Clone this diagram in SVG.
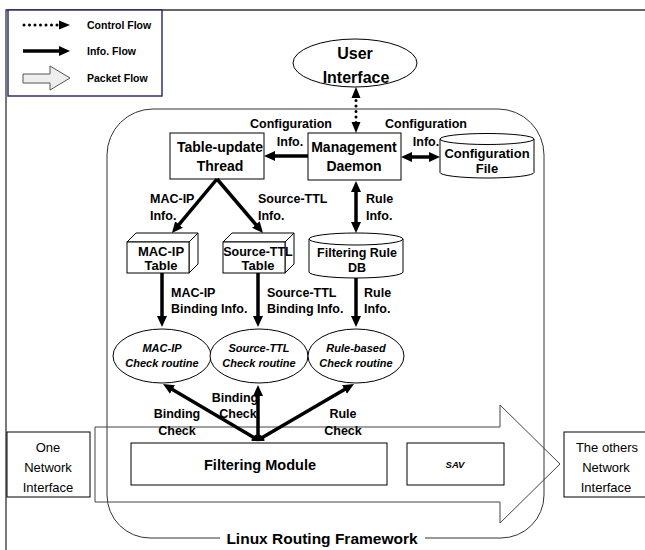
<svg xmlns="http://www.w3.org/2000/svg" width="645" height="550" viewBox="0 0 645 550">
  <style>
    text { font-family: "Liberation Sans", Arial, sans-serif; fill: #000; }
    .b { font-weight: bold; }
    .bi { font-weight: bold; font-style: italic; }
    .c { text-anchor: middle; }
    .box { fill: #fff; stroke: #000; stroke-width: 1; }
    .thin { fill: none; stroke: #333; stroke-width: 1; }
    .info { fill: none; stroke: #000; stroke-width: 3.5; marker-end: url(#ah); }
    .info2 { fill: none; stroke: #000; stroke-width: 3.5; marker-start: url(#ah); marker-end: url(#ah); }
    .ctrl { fill: none; stroke: #000; stroke-width: 3; stroke-dasharray: 0 5.5; stroke-linecap: round; }
    .lbl { font-size: 12.5px; font-weight: bold; }
    .rt { font-size: 11px; font-weight: bold; font-style: italic; text-anchor: middle; }
    .ni { font-size: 13px; text-anchor: middle; }
  </style>
  <defs>
    <marker id="ah" viewBox="0 0 11 10" refX="5" refY="5" markerWidth="11" markerHeight="10" markerUnits="userSpaceOnUse" orient="auto-start-reverse">
      <path d="M0,0 L11,5 L0,10 Z" fill="#000"/>
    </marker>
  </defs>

  <!-- page frame -->
  <path d="M6,550 V10 H645" fill="none" stroke="#333" stroke-width="1.3"/>

  <!-- legend -->
  <g id="legend">
    <rect x="8" y="10" width="154" height="86" fill="#fff" stroke="#23236e" stroke-width="1.4"/>
    <line class="ctrl" x1="24" y1="25" x2="60" y2="25"/>
    <path d="M59,20.5 L70,25 L59,29.5 Z" fill="#000"/>
    <text class="b" x="87" y="29" font-size="10.5">Control Flow</text>
    <line x1="23" y1="51" x2="64" y2="51" stroke="#000" stroke-width="3.5" marker-end="url(#ah)"/>
    <text class="b" x="87" y="55" font-size="10.5">Info. Flow</text>
    <path d="M23,74 H50 V66 L70,78 L50,90 V83 H23 Z" fill="#eee" stroke="#555" stroke-width="1"/>
    <text class="b" x="87" y="82" font-size="10.5">Packet Flow</text>
  </g>

  <!-- Linux routing framework outline -->
  <g id="framework">
    <path class="thin" d="M220,538 H150 A43,43 0 0 1 107,495 V155 A46,46 0 0 1 153,109 H498 A46,46 0 0 1 544,155 V495 A43,43 0 0 1 501,538 H425"/>
    <text class="b c" x="322" y="544" font-size="15.5">Linux Routing Framework</text>
  </g>

  <!-- packet flow arrow -->
  <g id="packet-flow">
    <path d="M95,427 H500 V405 L560,464 L500,523 V502 H95 Z" fill="none" stroke="#444" stroke-width="1"/>
  </g>

  <g id="user-interface">
    <ellipse class="box" cx="355" cy="63" rx="62" ry="24"/>
    <text class="b c" x="355" y="59" font-size="16">User</text>
    <text class="b c" x="356" y="83" font-size="16">Interface</text>
  </g>

  <g id="management-daemon">
    <rect class="box" x="308" y="133" width="93" height="47"/>
    <text class="b c" x="354" y="152" font-size="14">Management</text>
    <text class="b c" x="354" y="171" font-size="14">Daemon</text>
  </g>

  <g id="table-update-thread">
    <rect class="box" x="170" y="133" width="94" height="46"/>
    <text class="b c" x="220" y="152" font-size="14">Table-update</text>
    <text class="b c" x="220" y="171" font-size="14">Thread</text>
  </g>

  <g id="configuration-file">
    <path class="box" d="M440,139 A47,5.5 0 0 1 534,139 V172.5 A47,5.5 0 0 1 440,172.5 Z"/>
    <path fill="none" stroke="#000" stroke-width="1" d="M440,139 A47,5.5 0 0 0 534,139"/>
    <text class="b c" x="487" y="158" font-size="13">Configuration</text>
    <text class="b c" x="487" y="173" font-size="13">File</text>
  </g>

  <g id="mac-ip-table">
    <path class="box" d="M127,242 L136,233 H198 L189,242 Z"/>
    <path class="box" d="M189,242 L198,233 V264 L189,273 Z"/>
    <rect class="box" x="127" y="242" width="62" height="31"/>
    <text class="b c" x="161" y="256" font-size="13">MAC-IP</text>
    <text class="b c" x="161" y="270" font-size="13">Table</text>
  </g>

  <g id="source-ttl-table">
    <path class="box" d="M223,242 L232,233 H294 L285,242 Z"/>
    <path class="box" d="M285,242 L294,233 V264 L285,273 Z"/>
    <rect class="box" x="223" y="242" width="62" height="31"/>
    <text class="b c" x="258" y="256" font-size="12.5">Source-TTL</text>
    <text class="b c" x="258" y="270" font-size="13">Table</text>
  </g>

  <g id="filtering-rule-db">
    <path class="box" d="M309,239 A47,6 0 0 1 403,239 V272 A47,6 0 0 1 309,272 Z"/>
    <path fill="none" stroke="#000" stroke-width="1" d="M309,239 A47,6 0 0 0 403,239"/>
    <text class="b c" x="357" y="257" font-size="12.5">Filtering Rule</text>
    <text class="b c" x="357" y="272" font-size="12.5">DB</text>
  </g>

  <g id="mac-ip-check">
    <ellipse class="box" cx="162" cy="356" rx="49" ry="27"/>
    <text class="rt" x="162" y="352">MAC-IP</text>
    <text class="rt" x="162" y="367">Check routine</text>
  </g>

  <g id="source-ttl-check">
    <ellipse class="box" cx="259" cy="356" rx="49" ry="27"/>
    <text class="rt" x="259" y="352">Source-TTL</text>
    <text class="rt" x="259" y="367">Check routine</text>
  </g>

  <g id="rule-based-check">
    <ellipse class="box" cx="356" cy="356" rx="48" ry="27"/>
    <text class="rt" x="356" y="352">Rule-based</text>
    <text class="rt" x="356" y="367">Check routine</text>
  </g>

  <g id="filtering-module">
    <rect class="box" x="131" y="443" width="256" height="42"/>
    <text class="b c" x="260" y="470" font-size="14.5">Filtering Module</text>
  </g>

  <g id="sav">
    <rect class="box" x="407" y="443" width="97" height="42"/>
    <text class="bi c" x="455" y="468" font-size="9.5">SAV</text>
  </g>

  <g id="one-network-interface">
    <rect class="box" x="7" y="432" width="83" height="65"/>
    <text class="ni" x="48" y="452">One</text>
    <text class="ni" x="48" y="472">Network</text>
    <text class="ni" x="48" y="492">Interface</text>
  </g>

  <g id="others-network-interface">
    <rect class="box" x="564" y="432" width="90" height="65"/>
    <text class="ni" x="607" y="452">The others</text>
    <text class="ni" x="606" y="472">Network</text>
    <text class="ni" x="606" y="492">Interface</text>
  </g>

  <!-- connectors -->
  <g id="connectors">
    <line class="ctrl" x1="356" y1="95" x2="356" y2="126"/>
    <path d="M351.5,98 L356,87 L360.5,98 Z" fill="#000"/>
    <path d="M351.5,122 L356,133 L360.5,122 Z" fill="#000"/>

    <line class="info" x1="308" y1="156" x2="270" y2="156"/>
    <line class="info2" x1="407" y1="157" x2="434" y2="157"/>
    <line class="info2" x1="356" y1="187" x2="356" y2="227"/>

    <line class="info" x1="217" y1="179" x2="175.8" y2="228.4"/>
    <line class="info" x1="217" y1="179" x2="259.1" y2="228.4"/>

    <line class="info" x1="162" y1="273" x2="162" y2="321"/>
    <line class="info" x1="258" y1="273" x2="258" y2="321"/>
    <line class="info" x1="356" y1="278" x2="356" y2="321"/>

    <line class="info" x1="258" y1="440" x2="168.2" y2="387"/>
    <line class="info" x1="258" y1="440" x2="258" y2="391"/>
    <line class="info" x1="258" y1="440" x2="348.8" y2="387"/>
    <!-- common tail of the three check arrows -->
    <path d="M251.5,441 A6.5,6.5 0 0 1 264.5,441 Z" fill="#000"/>
  </g>

  <!-- connector labels -->
  <g id="labels">
    <text class="lbl c" x="291" y="128">Configuration</text>
    <text class="lbl c" x="290" y="146">Info.</text>
    <text class="lbl c" x="426" y="128">Configuration</text>
    <text class="lbl c" x="426" y="146">Info.</text>
    <text class="lbl" x="150" y="203">MAC-IP</text>
    <text class="lbl" x="150" y="220">Info.</text>
    <text class="lbl" x="258" y="203">Source-TTL</text>
    <text class="lbl" x="258" y="220">Info.</text>
    <text class="lbl" x="366" y="203">Rule</text>
    <text class="lbl" x="366" y="220">Info.</text>
    <text class="lbl" x="171" y="297">MAC-IP</text>
    <text class="lbl" x="171" y="313">Binding Info.</text>
    <text class="lbl" x="267" y="297">Source-TTL</text>
    <text class="lbl" x="267" y="313">Binding Info.</text>
    <text class="lbl" x="364" y="297">Rule</text>
    <text class="lbl" x="364" y="313">Info.</text>
    <text class="lbl c" x="177" y="418">Binding</text>
    <text class="lbl c" x="177" y="435">Check</text>
    <text class="lbl c" x="235" y="402">Binding</text>
    <text class="lbl c" x="238" y="418">Check</text>
    <text class="lbl c" x="343" y="418">Rule</text>
    <text class="lbl c" x="343" y="435">Check</text>
  </g>
</svg>
